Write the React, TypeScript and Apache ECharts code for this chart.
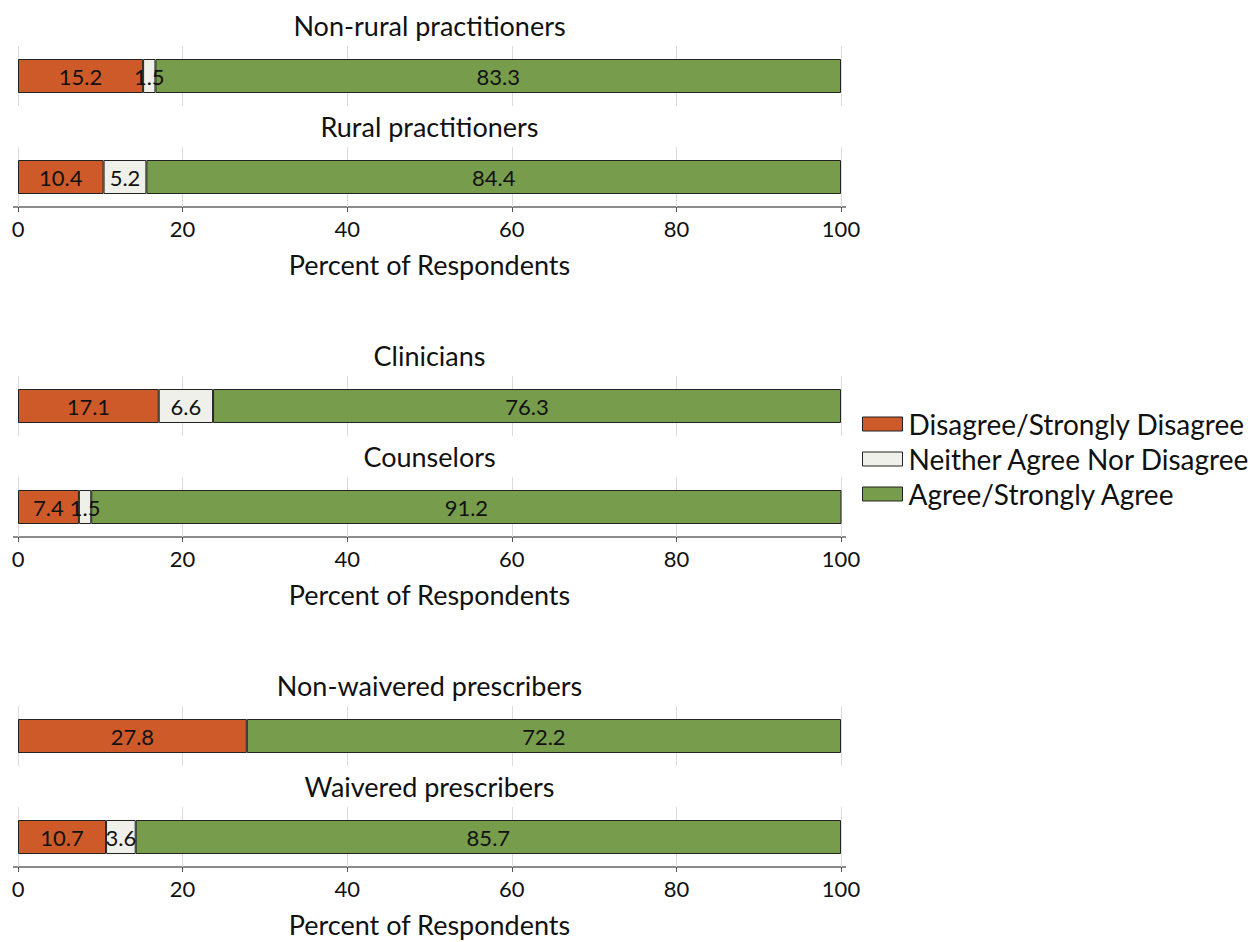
import React, { useEffect, useRef } from "react";
import * as echarts from "echarts";

const groups = [
  "Non-rural practitioners",
  "Rural practitioners",
  "Clinicians",
  "Counselors",
  "Non-waivered prescribers",
  "Waivered prescribers",
];
const disagree = [15.2, 10.4, 17.1, 7.4, 27.8, 10.7];
const neither = [1.5, 5.2, 6.6, 1.5, 0, 3.6];
const agree = [83.3, 84.4, 76.3, 91.2, 72.2, 85.7];
const seriesNames = [
  "Disagree/Strongly Disagree",
  "Neither Agree Nor Disagree",
  "Agree/Strongly Agree",
];
const tickValues = [0, 20, 40, 60, 80, 100];
const axisTitle = "Percent of Respondents";

const COLORS = ["#CF5A29", "#EFF0EA", "#779C4B"];
const FONT = "Lato, 'Open Sans', sans-serif";

export default function App() {
  const ref = useRef<HTMLDivElement>(null);
  useEffect(() => {
    if (!ref.current) return;
    const chart = echarts.init(ref.current, undefined, { renderer: "svg" });
    const L = 18;
    const R = 841;
    const grids: any[] = [];
    const xAxes: any[] = [];
    const yAxes: any[] = [];
    const series: any[] = [];
    const graphics: any[] = [];
    const values = [disagree, neither, agree];
    groups.forEach((g, i) => {
      const panel = Math.floor(i / 2);
      const sub = i % 2;
      const top = 46 + 330 * panel + 101 * sub;
      const isBottom = sub === 1;
      grids.push({ left: L, width: R - L, top, height: 60, containLabel: false });
      xAxes.push({
        type: "value",
        gridIndex: i,
        min: tickValues[0],
        max: tickValues[tickValues.length - 1],
        interval: 20,
        axisLine: { show: false },
        axisTick: isBottom
          ? { show: true, length: 5, lineStyle: { color: "#555", width: 1 } }
          : { show: false },
        axisLabel: isBottom
          ? { show: true, fontSize: 22, color: "#111", margin: 10, fontFamily: FONT }
          : { show: false },
        splitLine: { show: true, lineStyle: { color: "#dcdcdc", width: 1 } },
        name: isBottom ? axisTitle : "",
        nameLocation: "middle",
        nameGap: 44,
        nameTextStyle: { fontSize: 27, color: "#111", fontFamily: FONT },
      });
      yAxes.push({
        type: "category",
        gridIndex: i,
        data: [g],
        show: false,
      });
      values.forEach((arr, s) => {
        series.push({
          type: "bar",
          name: seriesNames[s],
          xAxisIndex: i,
          yAxisIndex: i,
          stack: "s" + i,
          barWidth: 34,
          data: [arr[i] === 0 ? null : arr[i]],
          itemStyle: { color: COLORS[s], borderColor: "#222", borderWidth: 1 },
          label: {
            show: true,
            position: "inside",
            color: "#111",
            fontSize: 22,
            fontFamily: FONT,
            formatter: (p: any) => (p.value ? Number(p.value).toFixed(1) : ""),
          },
        });
      });
      graphics.push({
        type: "text",
        x: (L + R) / 2,
        y: 25 + 330 * panel + 101 * sub,
        style: {
          text: g,
          textAlign: "center",
          textVerticalAlign: "middle",
          fontSize: 27,
          fill: "#111",
          fontFamily: FONT,
        },
      });
      if (isBottom) {
        graphics.push({
          type: "line",
          shape: { x1: 13, y1: top + 60, x2: 846, y2: top + 60 },
          style: { stroke: "#666", lineWidth: 1.5 },
        });
      }
    });
    chart.setOption({
      animation: false,
      backgroundColor: "#fff",
      grid: grids,
      xAxis: xAxes,
      yAxis: yAxes,
      series,
      graphic: graphics,
      legend: {
        data: seriesNames,
        orient: "vertical",
        left: 857,
        top: 405,
        itemWidth: 40,
        itemHeight: 14,
        itemGap: 7,
        textStyle: { fontSize: 28, color: "#111", fontFamily: FONT, padding: [0, 0, 0, 1] },
        itemStyle: { borderColor: "#222", borderWidth: 1 },
        icon: "rect",
        selectedMode: false,
      },
    });
    return () => chart.dispose();
  }, []);
  return (
    <div
      ref={ref}
      style={{ position: "absolute", left: 0, top: 0, width: 1257, height: 942 }}
    />
  );
}
